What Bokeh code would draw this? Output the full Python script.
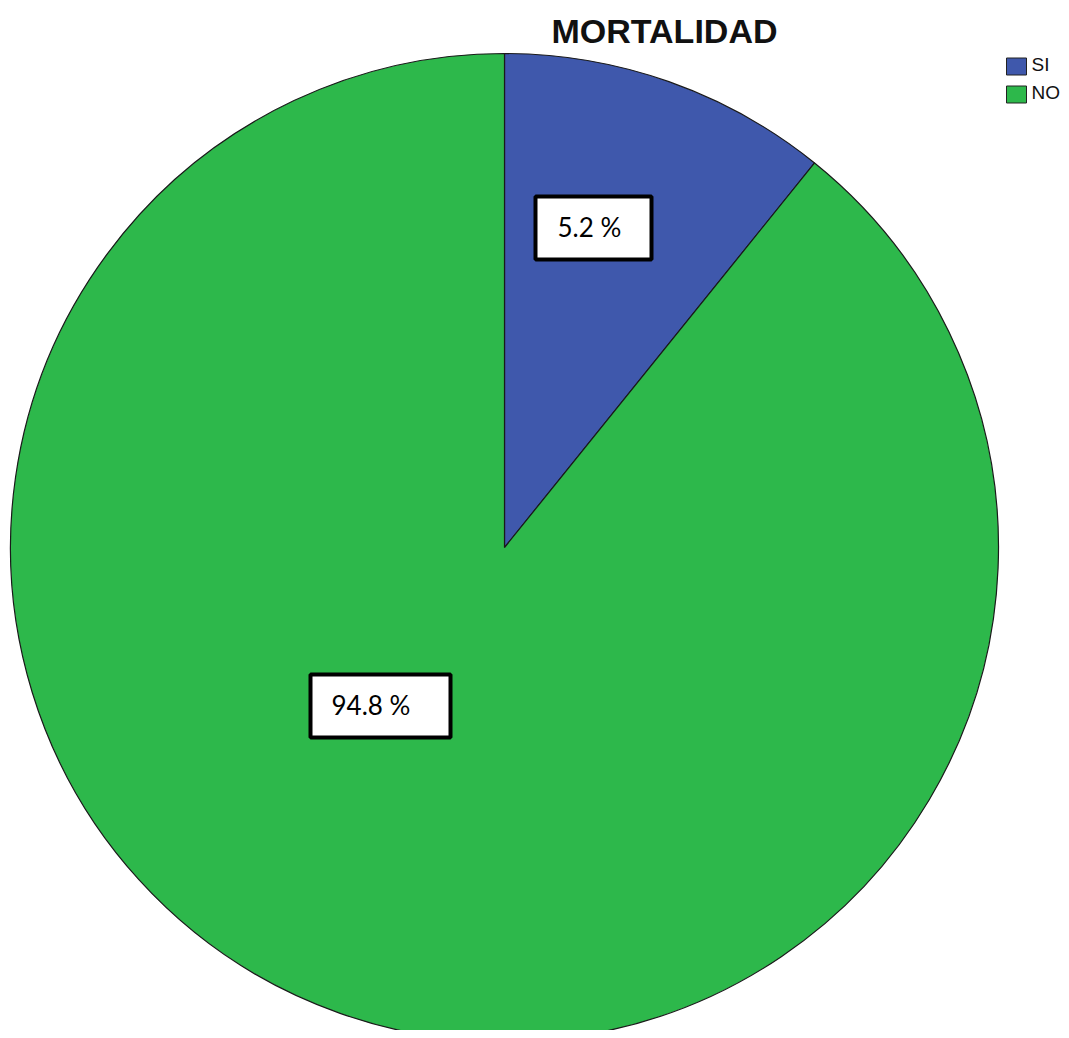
import math
from bokeh.plotting import figure
from bokeh.models import Range1d, ColumnDataSource
from bokeh.core.properties import value
from bokeh.embed import file_html
from bokeh.resources import INLINE

# ---- data ----
categories = ["SI", "NO"]
slice_shares = [10.8, 89.2]          # angular share of each slice as drawn (%)
label_values = [5.2, 94.8]           # percentages printed in the label boxes
colors = ["#3F58AC", "#2DB84B"]
title_text = "MORTALIDAD"

W, H = 1061, 1030
TXT_SHIFT = 11  # baseline compensation for text glyphs

def fx(ix):
    return ix

def fy(iy):
    return H - iy

def ty(iy):
    return H - (iy - TXT_SHIFT)

p = figure(width=W, height=H, output_backend="svg", toolbar_location=None,
           x_range=Range1d(0, W), y_range=Range1d(0, H),
           min_border=0, outline_line_color=None)
p.axis.visible = False
p.grid.visible = False
p.background_fill_color = "white"
p.border_fill_color = "white"

# ---- pie ----
total = sum(slice_shares)
starts, ends = [], []
a = math.pi / 2
for s in slice_shares:
    starts.append(a)
    a = a - 2 * math.pi * s / total
    ends.append(a)

src = ColumnDataSource(dict(cat=categories, start=starts, end=ends, color=colors))
cx, cy, r = fx(504), fy(547), 494
p.wedge(x=cx, y=cy, radius=r, start_angle="start", end_angle="end",
        direction="clock", fill_color="color", line_color="#1a1a1a",
        line_width=1.2, source=src)

# ---- label boxes ----
box_pos = [(593, 227.5, 116, 63), (380, 705.5, 140, 63)]
text_x = [557, 331]
for (bx, by, bw, bh), tx, v in zip(box_pos, text_x, label_values):
    p.rect(x=fx(bx), y=fy(by), width=bw, height=bh, fill_color="white",
           line_color="black", line_width=4)
    p.text(x=[fx(tx)], y=[ty(by + 9.5)], text=[f"{v} %"],
           text_font=value("Lato"), text_font_size="26px",
           text_baseline="alphabetic", text_align="left", text_color="black")

# ---- title ----
p.text(x=[fx(664)], y=[ty(41)], text=[title_text], text_font=value("Liberation Sans"),
       text_font_size="34px", text_font_style="bold", text_align="center",
       text_baseline="alphabetic", text_color="#111111")

# ---- legend ----
leg_y = [66, 94]
for cat, col, ly in zip(categories, colors, leg_y):
    p.rect(x=fx(1016), y=fy(ly), width=20, height=17, fill_color=col,
           line_color="#222222", line_width=1)
    p.text(x=[fx(1031)], y=[ty(ly + 9)], text=[cat], text_font=value("Liberation Sans"),
           text_font_size="19px", text_align="left", text_baseline="alphabetic",
           text_color="#111111")

open("out.html", "w").write(file_html(p, INLINE))
